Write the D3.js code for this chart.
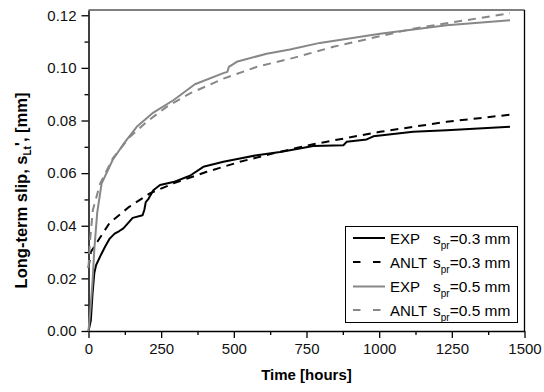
<!DOCTYPE html>
<html>
<head>
<meta charset="utf-8">
<script src="https://d3js.org/d3.v7.min.js"></script>
<style>
  body { margin: 0; background: #fff; }
  text { font-family: "Liberation Sans", Arial, sans-serif; }
</style>
</head>
<body>
<script>
// values: [time in hours, slip in mm]
const exp03 = [[0,0],[8,0.004],[14,0.0144],[20,0.022],[26,0.025],[43,0.029],[57,0.032],[72,0.035],[90,0.037],[106,0.038],[120,0.039],[152,0.043],[186,0.044],[192,0.046],[197,0.049],[205,0.050],[223,0.0535],[246,0.0555],[292,0.0566],[349,0.059],[395,0.0624],[464,0.0643],[521,0.0656],[579,0.0668],[659,0.068],[693,0.0687],[773,0.0703],[877,0.0706],[888,0.0719],[957,0.0728],[980,0.0740],[1117,0.0757],[1232,0.0763],[1450,0.0776]];
const anlt03 = [[0,0.024],[8,0.030],[31,0.034],[72,0.041],[140,0.0472],[211,0.0523],[292,0.0561],[407,0.0605],[521,0.0643],[636,0.0675],[773,0.0710],[1003,0.0757],[1232,0.0795],[1450,0.0822]];
const exp05 = [[0,0],[8,0.010],[14,0.019],[20,0.031],[30,0.045],[45,0.056],[83,0.065],[120,0.071],[166,0.0776],[223,0.0830],[292,0.0877],[366,0.0938],[464,0.0980],[478,0.0985],[483,0.1004],[510,0.1023],[613,0.1054],[693,0.107],[796,0.1095],[1003,0.113],[1232,0.1162],[1450,0.1181]];
const anlt05 = [[0,0.024],[5,0.034],[15,0.046],[40,0.056],[83,0.0655],[140,0.0735],[200,0.0795],[269,0.0852],[349,0.0903],[464,0.0959],[579,0.1004],[705,0.1038],[842,0.1080],[1117,0.1149],[1450,0.1208]];

const seriesNames = ["EXP", "ANLT", "EXP", "ANLT"];
const seriesSpr = ["0.3", "0.3", "0.5", "0.5"];
const seriesData = [exp03, anlt03, exp05, anlt05];

const xTicks = [0, 250, 500, 750, 1000, 1250, 1500];
const yTicks = [0, 0.02, 0.04, 0.06, 0.08, 0.10, 0.12];

const W = 544, H = 392;
const colors = ["#000", "#000", "#878787", "#878787"];
const dashed = [false, true, false, true];

const svg = d3.select("body").append("svg").attr("width", W).attr("height", H);

const x = d3.scaleLinear().domain([0, 1500]).range([88.5, 524.5]);
const y = d3.scaleLinear().domain([0, 0.122]).range([331, 10]);

// minor ticks
svg.append("g").attr("transform", "translate(0,331)")
  .call(d3.axisBottom(x).tickValues(d3.range(125, 1500, 250)).tickSize(4).tickFormat(""))
  .call(g => g.select(".domain").remove());
svg.append("g").attr("transform", "translate(88.5,0)")
  .call(d3.axisLeft(y).tickValues(d3.range(0.01, 0.12, 0.02)).tickSize(4).tickFormat(""))
  .call(g => g.select(".domain").remove());

svg.append("g").attr("transform", "translate(0,331)")
  .call(d3.axisBottom(x).tickValues(xTicks).tickSize(7).tickPadding(5).tickSizeOuter(0)
    .tickFormat(d3.format("d")));
svg.append("g").attr("transform", "translate(88.5,0)")
  .call(d3.axisLeft(y).tickValues(yTicks).tickSize(7).tickPadding(5).tickSizeOuter(0)
    .tickFormat(d3.format(".2f")));

svg.selectAll(".tick line").attr("stroke", "#000").attr("stroke-width", 1.3);
svg.selectAll(".tick text").style("font-size", "15px").attr("fill", "#111")
  .style("font-family", "'Liberation Sans', Arial, sans-serif");

// frame: top and right
svg.append("line").attr("x1", x(0)).attr("x2", x(1500)).attr("y1", 10).attr("y2", 10)
  .attr("stroke", "#555").attr("stroke-width", 1.5);
svg.append("line").attr("x1", x(1500)).attr("x2", x(1500)).attr("y1", 10).attr("y2", 331)
  .attr("stroke", "#000").attr("stroke-width", 1.3);
svg.selectAll(".domain").attr("stroke", "#000").attr("stroke-width", 1.5);

const line = d3.line().x(d => x(d[0])).y(d => y(d[1]));

seriesData.forEach((data, i) => {
  svg.append("path")
    .datum(data)
    .attr("d", line)
    .attr("fill", "none")
    .attr("stroke", colors[i])
    .attr("stroke-width", 2)
    .attr("stroke-linejoin", "round")
    .attr("stroke-dasharray", dashed[i] ? "8,6" : null);
});

// legend
const lg = svg.append("g");
lg.append("rect").attr("x", 345.5).attr("y", 226.5).attr("width", 172).attr("height", 96)
  .attr("fill", "#fff").attr("stroke", "#000").attr("stroke-width", 1);
const rowY = [238, 262, 286.5, 310];
seriesNames.forEach((name, i) => {
  lg.append("line").attr("x1", 353).attr("x2", 385).attr("y1", rowY[i]).attr("y2", rowY[i])
    .attr("stroke", colors[i]).attr("stroke-width", 2)
    .attr("stroke-dasharray", dashed[i] ? "7.5,12.5" : null);
  lg.append("text").attr("x", 390).attr("y", rowY[i] + 5.5)
    .style("font-size", "15px").attr("fill", "#000").text(name);
  const t = lg.append("text").attr("x", 433).attr("y", rowY[i] + 5.5)
    .style("font-size", "15.5px").attr("fill", "#000");
  t.append("tspan").text("s");
  t.append("tspan").attr("dy", 5).style("font-size", "10px").text("pr");
  t.append("tspan").attr("dy", -5).text("=" + seriesSpr[i] + " mm");
});

// axis titles
svg.append("text").attr("x", 306.5).attr("y", 380).attr("text-anchor", "middle")
  .style("font-size", "15px").style("font-weight", "bold").attr("fill", "#000")
  .text("Time [hours]");

const yt = svg.append("text").attr("transform", "translate(27,190.5) rotate(-90)")
  .attr("text-anchor", "middle")
  .style("font-size", "16.5px").style("font-weight", "bold").attr("fill", "#000");
yt.append("tspan").text("Long-term slip, s");
yt.append("tspan").attr("dy", 4).style("font-size", "10px").text("Lt");
yt.append("tspan").attr("dy", -4).text("', [mm]");
</script>
</body>
</html>
